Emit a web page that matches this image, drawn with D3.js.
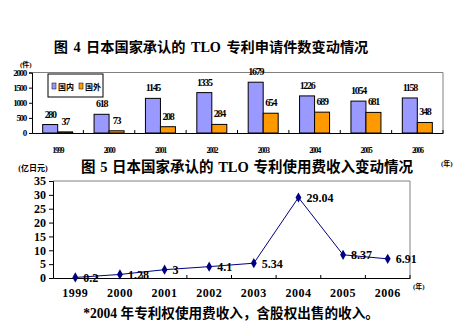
<!DOCTYPE html>
<html><head><meta charset="utf-8">
<script src="https://cdn.jsdelivr.net/npm/d3@7"></script>
<style>body{margin:0;background:#fff}svg{display:block}</style>
</head><body>
<script>
// ---- data ----
const years = ["1999","2000","2001","2002","2003","2004","2005","2006"];
const domestic = [280, 618, 1145, 1335, 1679, 1226, 1054, 1158];
const foreign = [37, 73, 208, 284, 654, 689, 681, 348];
const barTicks = [0, 500, 1000, 1500, 2000];
const royalty = [0.2, 1.28, 3, 4.1, 5.34, 29.04, 8.37, 6.91];
const royaltyLabels = ["0.2","1.28","3","4.1","5.34","29.04","8.37","6.91"];
const lineTicks = [0, 5, 10, 15, 20, 25, 30, 35];
const seriesNames = ["国内", "国外"];
const title4 = "图 4 日本国家承认的 TLO 专利申请件数变动情况";
const title5 = "图 5 日本国家承认的 TLO 专利使用费收入变动情况";
const footnote = "*2004 年专利权使用费收入，含股权出售的收入。";

const W = 469, H = 336;
const FONT = "'Liberation Serif','Noto Sans CJK SC',serif";
const svg = d3.select("body").append("svg").attr("width", W).attr("height", H)
  .style("font-family", FONT);
svg.append("rect").attr("width", W).attr("height", H).attr("fill", "#fff");

// ---------- Chart 4: grouped bars ----------
svg.append("text").attr("x", 211).attr("y", 52).attr("text-anchor", "middle")
  .attr("font-size", 14.2).attr("font-weight", "bold").attr("word-spacing", 2).text(title4);

const bx = d3.scaleBand().domain(years).range([32, 443]);
const by = d3.scaleLinear().domain([0, 2000]).range([133, 72.5]);
const bw = 15;
const g1 = svg.append("g");

g1.append("path").attr("d", `M32,${by(2000)}H443V133`).attr("fill", "none").attr("stroke", "#808080");

g1.selectAll(".dom").data(years).join("rect")
  .attr("x", d => bx(d) + bx.bandwidth()/2 - bw).attr("width", bw)
  .attr("y", (d,i) => by(domestic[i])).attr("height", (d,i) => by(0) - by(domestic[i]))
  .attr("fill", "#9999FF").attr("stroke", "#000").attr("stroke-width", 1);
g1.selectAll(".for").data(years).join("rect")
  .attr("x", d => bx(d) + bx.bandwidth()/2).attr("width", bw)
  .attr("y", (d,i) => by(foreign[i])).attr("height", (d,i) => by(0) - by(foreign[i]))
  .attr("fill", "#FF9900").attr("stroke", "#000").attr("stroke-width", 1);

function cond(sel, size) {
  sel.attr("font-size", size).attr("font-weight", "bold").attr("letter-spacing", -1.3);
}
g1.selectAll(".dl").data(years).join("text")
  .attr("x", d => bx(d) + bx.bandwidth()/2 - bw/2).attr("y", (d,i) => by(domestic[i]) - 7)
  .attr("text-anchor", "middle").text((d,i) => domestic[i]).call(cond, 10);
g1.selectAll(".fl").data(years).join("text")
  .attr("x", d => bx(d) + bx.bandwidth()/2 + bw/2).attr("y", (d,i) => by(foreign[i]) - 7)
  .attr("text-anchor", "middle").text((d,i) => foreign[i]).call(cond, 10);

const yAx1 = d3.axisLeft(by).tickValues(barTicks).tickSize(3).tickFormat(d3.format("d"));
const ya1 = g1.append("g").attr("transform", "translate(32,0)").call(yAx1);
ya1.select(".domain").attr("stroke", "#000");
ya1.selectAll("text").call(cond, 9).attr("x", -6).attr("font-family", FONT);
const xAx1 = d3.axisBottom(bx).tickSize(0).tickFormat(d => d);
const xa1 = g1.append("g").attr("transform", "translate(0,133)").call(xAx1);
xa1.select(".domain").attr("stroke", "#000");
xa1.selectAll("text").call(cond, 8).attr("y", 14).attr("font-family", FONT);
g1.selectAll(".bt").data(years).join("line")
  .attr("x1", (d,i) => bx(years[0]) + bx.step()*(i+1)).attr("x2", (d,i) => bx(years[0]) + bx.step()*(i+1))
  .attr("y1", 133).attr("y2", 130).attr("stroke", "#000");

g1.append("text").attr("x", 20).attr("y", 67).attr("font-size", 7).attr("font-weight", "bold").text("(件)");
g1.append("text").attr("x", 441).attr("y", 166).attr("font-size", 7).attr("font-weight", "bold").text("(年)");

const lg = g1.append("g");
lg.append("rect").attr("x", 48).attr("y", 74).attr("width", 55).attr("height", 23)
  .attr("fill", "#fff").attr("stroke", "#000");
const legColors = ["#9999FF", "#FF9900"];
lg.selectAll(".ls").data(seriesNames).join("rect")
  .attr("x", (d,i) => 52 + i*27).attr("y", 83).attr("width", 4).attr("height", 6)
  .attr("fill", (d,i) => legColors[i]).attr("stroke", "#000").attr("stroke-width", 0.5);
lg.selectAll(".lt").data(seriesNames).join("text")
  .attr("x", (d,i) => 58 + i*27).attr("y", 89.5).attr("font-size", 8).attr("font-weight", "bold")
  .text(d => d);

// ---------- Chart 5: line ----------
svg.append("text").attr("x", 247).attr("y", 172).attr("text-anchor", "middle")
  .attr("font-size", 14.5).attr("font-weight", "bold").attr("word-spacing", 1).text(title5);

const lx = d3.scaleBand().domain(years).range([53, 410]);
const ly = d3.scaleLinear().domain([0, 35]).range([278, 181]);
const g2 = svg.append("g");
g2.append("path").attr("d", `M53,181H410V278`).attr("fill", "none").attr("stroke", "#808080");

const yAx2 = d3.axisLeft(ly).tickValues(lineTicks).tickSize(4);
const ya2 = g2.append("g").attr("transform", "translate(53,0)").call(yAx2);
ya2.select(".domain").attr("stroke", "#000");
ya2.selectAll("text").attr("font-size", 12).attr("font-weight", "bold").attr("font-family", FONT).attr("x", -7);

const xAx2 = d3.axisBottom(lx).tickSize(0);
const xa2 = g2.append("g").attr("transform", "translate(0,278)").call(xAx2);
xa2.select(".domain").attr("stroke", "#000");
xa2.selectAll("text").attr("font-size", 12).attr("font-weight", "bold").attr("font-family", FONT)
  .attr("y", 10).attr("letter-spacing", 0.5);
g2.selectAll(".lt2").data(years).join("line")
  .attr("x1", (d,i) => 53 + lx.step()*(i+1)).attr("x2", (d,i) => 53 + lx.step()*(i+1))
  .attr("y1", 278).attr("y2", 275).attr("stroke", "#000");

const cx = d => lx(d) + lx.bandwidth()/2;
const line = d3.line().x((d,i) => cx(years[i])).y(d => ly(d));
g2.append("path").datum(royalty).attr("d", line).attr("fill", "none")
  .attr("stroke", "#000080").attr("stroke-width", 1);
g2.selectAll(".pt").data(royalty).join("path")
  .attr("transform", (d,i) => `translate(${cx(years[i])},${ly(d)})`)
  .attr("d", d3.symbol(d3.symbolDiamond, 30)).attr("fill", "#000080");
g2.selectAll(".pl").data(royalty).join("text")
  .attr("x", (d,i) => cx(years[i]) + 8).attr("y", d => ly(d) + 4.5)
  .attr("font-size", 12).attr("font-weight", "bold").text((d,i) => royaltyLabels[i]);

g2.append("text").attr("x", 413).attr("y", 289).attr("font-size", 7).attr("font-weight", "bold").text("(年)");
g2.append("text").attr("x", 33).attr("y", 171).attr("text-anchor", "middle")
  .attr("font-size", 8).attr("font-weight", "bold").text("(亿日元)");

svg.append("text").attr("x", 231).attr("y", 318).attr("text-anchor", "middle")
  .attr("font-size", 13.6).attr("font-weight", "bold").text(footnote);
</script>
</body></html>
